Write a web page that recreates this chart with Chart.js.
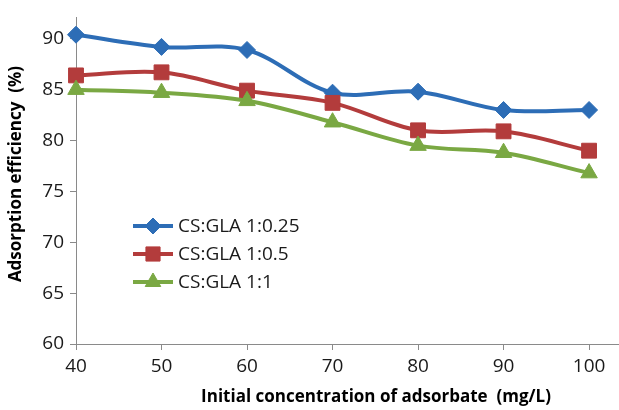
<!DOCTYPE html>
<html>
<head>
<meta charset="utf-8">
<script src="https://cdn.jsdelivr.net/npm/chart.js@4/dist/chart.umd.min.js"></script>
<style>
  html, body { margin: 0; padding: 0; background: #ffffff; }
  #wrap { width: 619px; height: 410px; }
</style>
</head>
<body>
<div id="wrap"><canvas id="c" width="619" height="410"></canvas></div>
<script>
// Initial concentration of adsorbate (mg/L)
const concentrations = [40, 50, 60, 70, 80, 90, 100];
// Adsorption efficiency (%) for each CS:GLA ratio
const effGla025 = [90.4, 89.2, 88.9, 84.7, 84.8, 83.0, 83.0];
const effGla05  = [86.4, 86.7, 84.9, 83.7, 81.0, 80.9, 79.0];
const effGla1   = [85.0, 84.7, 83.9, 81.8, 79.5, 78.8, 76.8];

const seriesNames = ['CS:GLA 1:0.25', 'CS:GLA 1:0.5', 'CS:GLA 1:1'];
const yTickValues = [60, 65, 70, 75, 80, 85, 90];
const xTickValues = [40, 50, 60, 70, 80, 90, 100];

const FONT = "'Open Sans', 'Liberation Sans', sans-serif";
const AXIS_GREY = '#8a8a8a';

const styles = [
  { color: '#2d6db6', point: 'rectRot', radius: 8.5 },
  { color: '#b33c3c', point: 'rect', radius: 10.5 },
  { color: '#7aa843', point: 'triangle', radius: 9.5 }
];

function toPoints(values) {
  return concentrations.map((x, i) => ({ x: x, y: values[i] }));
}

const allSeries = [effGla025, effGla05, effGla1];
const datasets = allSeries.map((vals, i) => ({
  label: seriesNames[i],
  data: toPoints(vals),
  borderColor: styles[i].color,
  backgroundColor: styles[i].color,
  borderWidth: 4,
  tension: 0.35,
  pointStyle: styles[i].point,
  pointRadius: styles[i].radius,
  pointBorderWidth: 1,
  pointBorderColor: styles[i].color,
  pointBackgroundColor: styles[i].color,
  clip: false,
  order: 3 - i
}));

// Legend box and axis titles
const decorations = {
  id: 'decorations',
  afterDraw(chart) {
    const ctx = chart.ctx;
    ctx.save();
    // legend
    const rows = [226, 254, 282];
    ctx.font = '19px ' + FONT;
    ctx.textBaseline = 'middle';
    ctx.textAlign = 'left';
    rows.forEach((y, i) => {
      ctx.strokeStyle = styles[i].color;
      ctx.lineWidth = 4;
      ctx.beginPath();
      ctx.moveTo(133, y);
      ctx.lineTo(173, y);
      ctx.stroke();
      ctx.fillStyle = styles[i].color;
      ctx.strokeStyle = styles[i].color;
      ctx.lineWidth = 1;
      Chart.helpers.drawPoint(ctx, { pointStyle: styles[i].point, radius: styles[i].radius - 0.5, rotation: 0, borderWidth: 1 }, 153, y);
      ctx.fillStyle = '#1a1a1a';
      ctx.fillText(seriesNames[i], 178, y + 1);
    });

    // axis titles
    ctx.fillStyle = '#000000';
    ctx.font = 'bold 17px ' + FONT;
    ctx.textAlign = 'center';
    ctx.textBaseline = 'middle';
    ctx.fillText('Initial concentration of adsorbate  (mg/L)', 376, 397);

    ctx.translate(16, 174);
    ctx.rotate(-Math.PI / 2);
    ctx.fillText('Adsorption efficiency  (%)', 0, 0);
    ctx.restore();
  }
};

new Chart(document.getElementById('c'), {
  type: 'line',
  data: { datasets: datasets },
  options: {
    responsive: false,
    animation: false,
    events: [],
    layout: { autoPadding: false, padding: { left: 0, right: 0, top: 8, bottom: 0 } },
    plugins: {
      legend: { display: false },
      tooltip: { enabled: false },
      title: { display: false }
    },
    scales: {
      x: {
        type: 'linear',
        min: 40,
        max: 103.5,
        afterBuildTicks(scale) { scale.ticks = xTickValues.map(v => ({ value: v })); },
        afterFit(scale) { scale.height = 66; },
        ticks: {
          color: '#1a1a1a',
          font: { family: FONT, size: 19 },
          padding: 5,
          maxRotation: 0,
          autoSkip: false
        },
        grid: { display: true, drawOnChartArea: false, drawTicks: true, tickLength: 6, color: AXIS_GREY },
        border: { display: true, color: AXIS_GREY, width: 1 }
      },
      y: {
        type: 'linear',
        min: 60,
        max: 92.1,
        afterBuildTicks(scale) { scale.ticks = yTickValues.map(v => ({ value: v })); },
        afterFit(scale) { scale.width = 76; },
        ticks: {
          color: '#1a1a1a',
          font: { family: FONT, size: 19 },
          padding: 6,
          autoSkip: false
        },
        grid: { display: true, drawOnChartArea: false, drawTicks: true, tickLength: 6, color: AXIS_GREY },
        border: { display: true, color: AXIS_GREY, width: 1 }
      }
    }
  },
  plugins: [decorations]
});
</script>
</body>
</html>
